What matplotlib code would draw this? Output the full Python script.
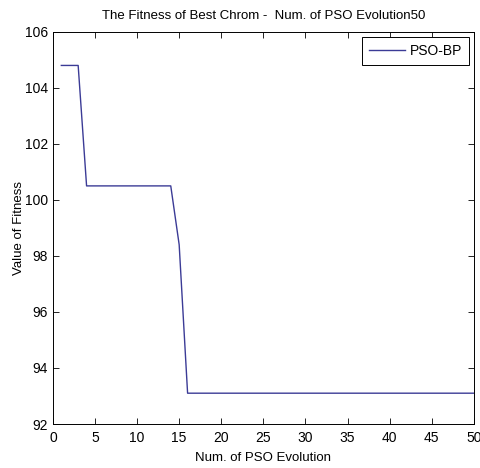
import numpy as np
import matplotlib
matplotlib.use("Agg")
import matplotlib.pyplot as plt

plt.rcParams['font.family'] = ['Liberation Sans', 'DejaVu Sans']

# fitness of best chromosome per PSO generation
generations = list(range(1, 51))
fitness = [104.8, 104.8, 104.8] + [100.5] * 11 + [98.4] + [93.1] * 35

x_ticks = list(range(0, 51, 5))
y_ticks = list(range(92, 107, 2))

fig = plt.figure(figsize=(4.81, 4.68), dpi=100)
ax = fig.add_axes([0.110, 0.094, 0.875, 0.838])

ax.plot(generations, fitness, color='#3b3b96', linewidth=1.0, label='PSO-BP')

ax.set_xlim(0, 50)
ax.set_ylim(92, 106)
ax.set_xticks(x_ticks)
ax.set_yticks(y_ticks)
ax.tick_params(direction='in', top=True, right=True, labelsize=10, length=4, width=0.6)
ax.tick_params(axis='x', pad=5)
for s in ax.spines.values():
    s.set_linewidth(0.7)

ax.set_title('The Fitness of Best Chrom -  Num. of PSO Evolution50', fontsize=9.5, pad=9)
ax.set_xlabel('Num. of PSO Evolution', fontsize=9.5, labelpad=5)
ax.set_ylabel('Value of Fitness', fontsize=9.5, labelpad=0)

leg = ax.legend(loc='upper right', fontsize=10, fancybox=False, framealpha=1,
                edgecolor='black', borderaxespad=0.35, handlelength=2.6,
                handletextpad=0.3, borderpad=0.5)
leg.get_frame().set_linewidth(0.7)

fig.savefig('out.png', dpi=100)
